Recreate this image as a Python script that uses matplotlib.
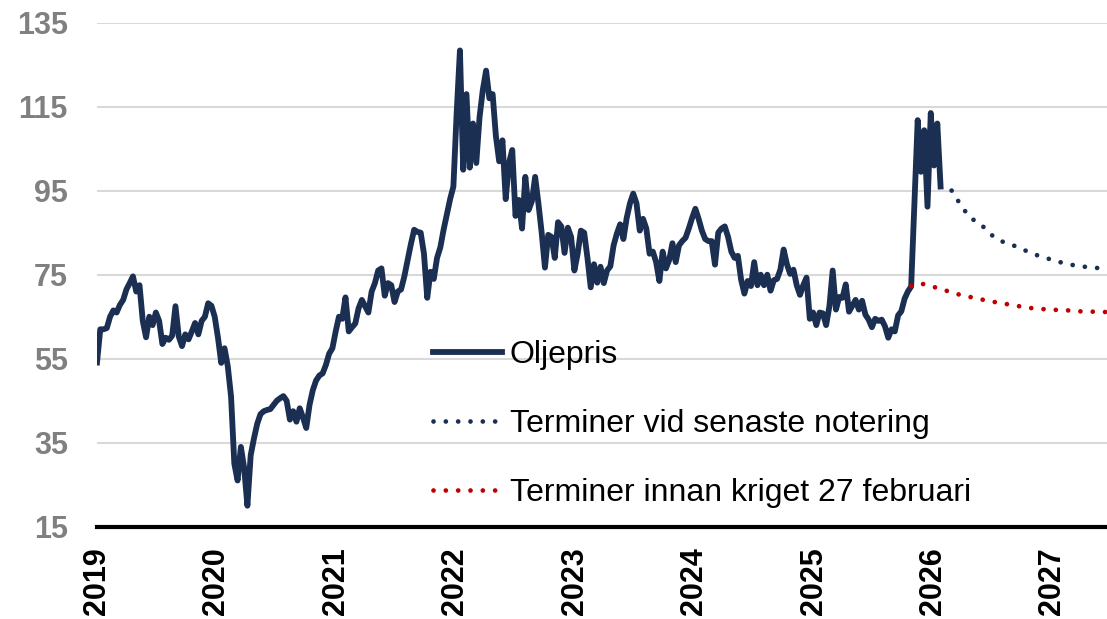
"""
Oljepris 2019-2026 med terminskurvor (före kriget och vid senaste notering).
"""
import matplotlib
matplotlib.use("Agg")
import matplotlib.pyplot as plt
import matplotlib.dates as mdates
import pandas as pd

plt.rcParams["font.family"] = ["Liberation Sans", "DejaVu Sans"]

# Oljepris, ett värde per tio dagar från 1 jan 2019
oljepris = [
    54.1, 62.0, 62.0, 62.3, 65.0, 66.5, 66.0, 67.8, 69.0, 71.5,
    73.0, 74.6, 71.0, 72.5, 64.0, 60.1, 65.0, 63.0, 66.0, 64.0,
    58.5, 60.0, 59.5, 60.5, 67.5, 60.3, 58.0, 60.8, 59.6, 61.5,
    63.5, 60.8, 64.0, 65.0, 68.2, 67.6, 65.0, 60.0, 54.0, 57.5,
    53.2, 46.0, 30.0, 26.0, 34.0, 29.0, 20.0, 32.0, 36.0, 39.5,
    41.8, 42.5, 42.8, 43.0, 44.0, 45.0, 45.6, 46.1, 45.0, 40.5,
    42.5, 40.0, 43.2, 41.0, 38.5, 44.0, 47.5, 49.8, 51.0, 51.5,
    53.5, 56.2, 57.5, 61.5, 65.0, 64.5, 69.6, 61.5, 62.5, 63.4,
    67.0, 69.0, 67.5, 66.0, 71.0, 73.0, 76.0, 76.5, 70.0, 73.0,
    72.5, 68.5, 71.0, 71.5, 74.6, 78.5, 82.3, 85.7, 85.2, 85.0,
    80.0, 69.5, 75.7, 74.0, 79.0, 81.5, 85.7, 89.3, 93.0, 96.0,
    113.5, 128.4, 100.0, 118.0, 100.5, 111.0, 101.6, 112.5, 119.0, 123.6,
    117.0, 118.0, 108.0, 102.0, 107.0, 93.0, 101.6, 104.7, 89.0, 92.8,
    86.0, 98.3, 90.4, 92.5, 98.3, 92.0, 85.0, 76.7, 84.5, 84.0,
    79.0, 87.5, 86.5, 80.2, 86.2, 84.0, 76.0, 80.0, 85.5, 85.0,
    79.0, 72.0, 77.5, 73.1, 76.9, 73.0, 76.0, 77.0, 82.0, 84.8,
    87.0, 83.5, 88.5, 92.0, 94.3, 92.0, 85.5, 88.3, 86.0, 80.0,
    80.5, 78.0, 73.5, 80.5, 76.5, 78.5, 82.5, 78.0, 82.0, 83.0,
    83.8, 86.0, 88.5, 90.7, 88.3, 85.5, 83.5, 83.0, 83.0, 77.4,
    85.0, 86.0, 86.5, 84.0, 80.5, 79.0, 79.5, 73.8, 70.5, 73.5,
    72.3, 78.0, 72.5, 75.0, 72.5, 75.0, 71.2, 73.7, 74.0, 76.2,
    81.0, 77.5, 75.2, 76.2, 72.5, 70.2, 72.5, 74.3, 64.5, 66.0,
    63.0, 66.0, 65.8, 63.0, 67.5, 76.0, 66.7, 69.7, 69.5, 72.7,
    66.2, 67.6, 69.0, 66.7, 68.8, 65.5, 64.3, 62.5, 64.5, 64.0,
    64.3, 62.7, 60.0, 62.0, 61.5, 65.3, 66.3, 69.3, 71.0, 72.2,
    92.0, 111.8, 99.5, 109.4, 91.2, 113.5, 101.0, 111.0, 96.0,
]

# Terminskurva vid senaste notering (månadsvis från sista noteringen)
termin_nu = [
    96.0, 95.5, 91.8, 88.5, 87.3, 84.8, 83.1, 82.4, 81.4, 80.4,
    79.5, 78.8, 78.1, 77.5, 77.1, 76.8, 76.6, 76.4,
]

# Terminskurva innan kriget 27 februari
termin_fore = [
    72.3, 72.9, 72.3, 71.6, 70.9, 70.2, 69.7, 69.2, 68.7, 68.3,
    67.9, 67.5, 67.1, 66.9, 66.7, 66.6, 66.5, 66.3, 66.2, 66.2, 66.1,
]
START_FORE = 249  # index i oljepris där terminskurvan före kriget börjar

AR = list(range(2019, 2028))
Y_TICKS = [15, 35, 55, 75, 95, 115, 135]

MORKBLA = "#1b2f52"
ROD = "#c00000"
GRA_TEXT = "#808080"
GRID = "#d9d9d9"

datum = pd.date_range("2019-01-01", periods=len(oljepris), freq="10D")
datum_nu = pd.date_range(datum[-1], periods=len(termin_nu), freq="30D")
datum_fore = pd.date_range(datum[START_FORE], periods=len(termin_fore), freq="30D")

fig = plt.figure(figsize=(11.07, 6.19), dpi=100)
ax = fig.add_axes([97 / 1107, 0.1491, 1 - 97 / 1107, 0.9633 - 0.1491])

prick = (0, (0.01, 2.6))
ax.plot(datum, oljepris, color=MORKBLA, lw=4.2, solid_joinstyle="round",
        label="Oljepris", zorder=3)
ax.plot(datum_nu, termin_nu, color=MORKBLA, lw=3.4, linestyle=prick,
        dash_capstyle="round", label="Terminer vid senaste notering", zorder=3)
ax.plot(datum_fore, termin_fore, color=ROD, lw=3.4, linestyle=prick,
        dash_capstyle="round", label="Terminer innan kriget 27 februari", zorder=3)

ax.set_ylim(15, 135)
ax.set_yticks(Y_TICKS)
ax.set_xlim(pd.Timestamp("2019-01-01"), pd.Timestamp("2027-06-17"))
ax.set_xticks([pd.Timestamp(f"{a}-01-01") for a in AR])
ax.xaxis.set_major_formatter(mdates.DateFormatter("%Y"))

ax.grid(axis="y", color=GRID, lw=1.5)
ax.set_axisbelow(True)
for s in ["top", "right", "left"]:
    ax.spines[s].set_visible(False)
ax.spines["bottom"].set_color("black")
ax.spines["bottom"].set_linewidth(3)
ax.spines["bottom"].set_zorder(4)

ax.tick_params(axis="y", length=0, pad=21, labelsize=22, labelcolor=GRA_TEXT)
ax.tick_params(axis="x", length=0, pad=15, labelsize=22, labelcolor="black",
               labelrotation=90)
for t in ax.get_yticklabels() + ax.get_xticklabels():
    t.set_fontweight("bold")

ax.legend(loc="upper left", bbox_to_anchor=(433 / 1107, 1 - 340 / 619),
          bbox_transform=fig.transFigure, frameon=False, fontsize=23,
          handlelength=2.15, handletextpad=0.25, labelspacing=1.22,
          borderpad=0, borderaxespad=0)

fig.savefig("out.png", dpi=100)
